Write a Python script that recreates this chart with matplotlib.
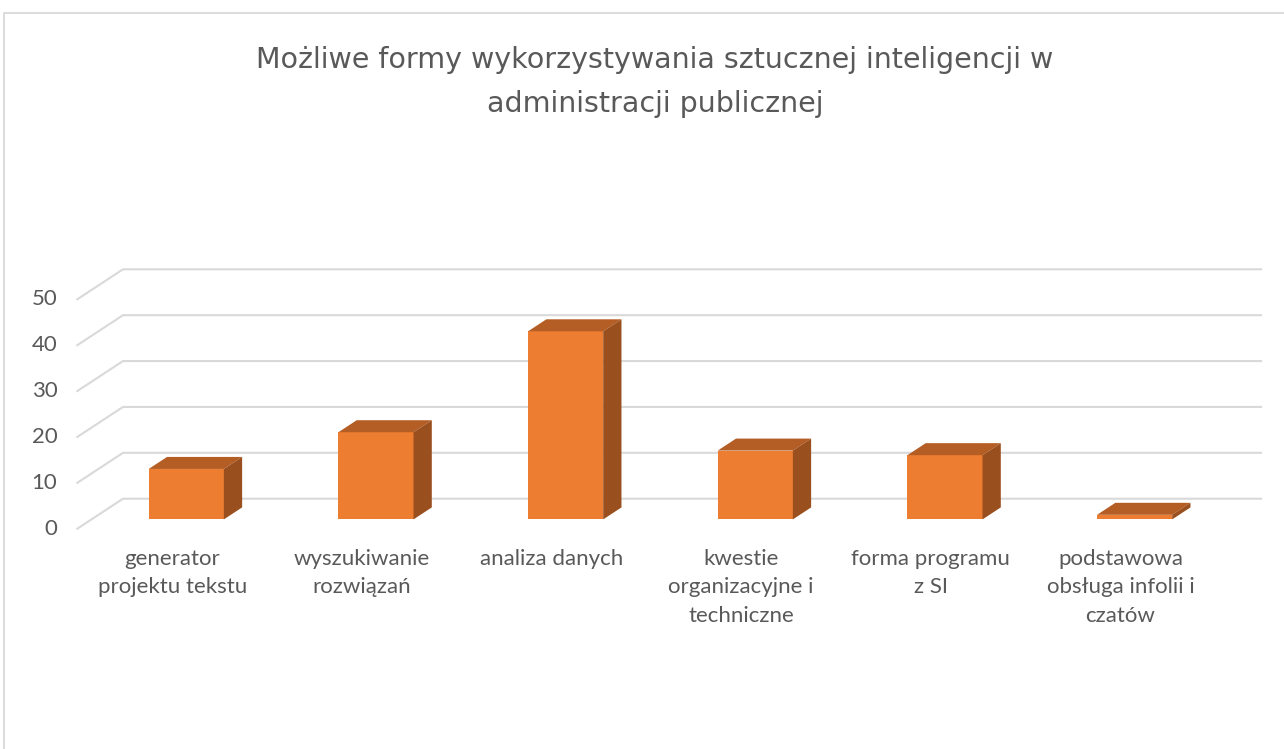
import matplotlib
matplotlib.use("Agg")
import matplotlib.pyplot as plt
from matplotlib.patches import Polygon, Rectangle

# ---- data ----
categories = ["generator\nprojektu tekstu", "wyszukiwanie\nrozwiązań", "analiza danych",
              "kwestie\norganizacyjne i\ntechniczne", "forma programu\nz SI",
              "podstawowa\nobsługa infolii i\nczatów"]
values = [11, 19, 41, 15, 14, 1]
yticks = [0, 10, 20, 30, 40, 50]
title_lines = ["Możliwe formy wykorzystywania sztucznej inteligencji w",
               "administracji publicznej"]

# ---- style ----
FONT = ["Lato", "DejaVu Sans"]
TFONT = ["DejaVu Sans"]
TXT = "#595959"
GRID = "#D9D9D9"
FRONT = "#ED7D31"
TOP = "#B45D24"
SIDE = "#9A4F1E"

W, H = 1284, 749
fig = plt.figure(figsize=(W / 100, H / 100), dpi=100)

# chart-area border (top and left visible)
fig.patches.append(Rectangle((4 / W, -0.1), 1.2, 1 - 13 / H + 0.1, transform=fig.transFigure,
                             fill=False, edgecolor="#D9D9D9", lw=1.3))

# front plane of the 3-D box
x0, x1 = 77.3, 1215.3
yb, yt = 528.7, 299.3
ax = fig.add_axes([x0 / W, 1 - yb / H, (x1 - x0) / W, (yb - yt) / H])
n = len(categories)
ax.set_xlim(-0.5, n - 0.5)
ax.set_ylim(0, yticks[-1])
ax.axis("off")

px_cat = (x1 - x0) / n
px_val = (yb - yt) / yticks[-1]
ddx = 45.7 / px_cat      # depth offset (category units)
ddy = 30.0 / px_val      # depth offset (value units)

# gridlines: floor diagonal + back wall
for v in yticks:
    ax.plot([-0.5, -0.5 + ddx, n - 0.5 + ddx], [v, v + ddy, v + ddy], color=GRID, lw=1.5,
            clip_on=False, zorder=1, solid_joinstyle="miter")
    ax.text(-0.5 - 20 / px_cat, v, str(v), ha="right", va="center", fontsize=16,
            color=TXT, family=FONT)

# 3-D bars
f0, f1 = 0.31, 0.71
bw = 0.396
dd = f1 - f0
label_y = -(549 - yb) / px_val
for i, v in enumerate(values):
    xl = i - bw / 2 + f0 * ddx
    xr = xl + bw
    b0 = f0 * ddy
    ax.bar(xl + bw / 2, v, width=bw, bottom=b0, color=FRONT, zorder=3, clip_on=False,
           linewidth=0)
    top = Polygon([(xl, b0 + v), (xr, b0 + v), (xr + dd * ddx, b0 + v + dd * ddy),
                   (xl + dd * ddx, b0 + v + dd * ddy)], closed=True, facecolor=TOP,
                  edgecolor="none", zorder=3, clip_on=False)
    side = Polygon([(xr, b0), (xr, b0 + v), (xr + dd * ddx, b0 + v + dd * ddy),
                    (xr + dd * ddx, b0 + dd * ddy)], closed=True, facecolor=SIDE,
                   edgecolor="none", zorder=3, clip_on=False)
    ax.add_patch(top)
    ax.add_patch(side)
    ax.text(i, label_y, categories[i], ha="center", va="top",
            fontsize=16, color=TXT, family=FONT, linespacing=1.53)

for k, line in enumerate(title_lines):
    fig.text(655 / W, 1 - (68 + 44 * k) / H, line, ha="center", va="baseline", fontsize=20.5,
             color=TXT, family=TFONT)

fig.savefig("out.png", dpi=100)
